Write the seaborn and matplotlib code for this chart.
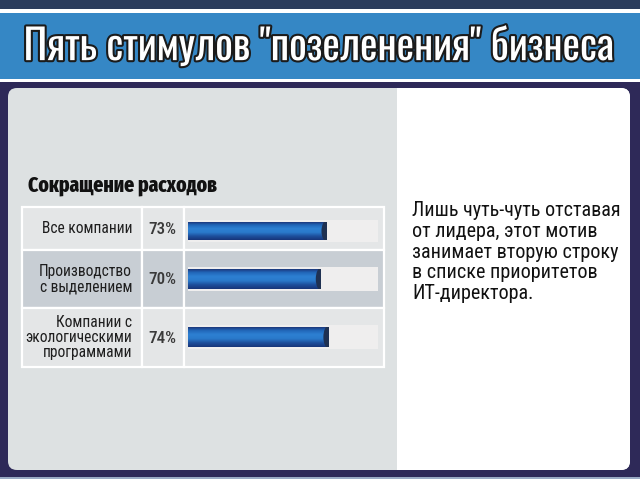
import numpy as np
import pandas as pd
import matplotlib
matplotlib.use('Agg')
import matplotlib.pyplot as plt
import matplotlib.patheffects as pe
from matplotlib.patches import Rectangle, FancyBboxPatch, Ellipse
import seaborn as sns

# chart data
title = 'Пять стимулов "позеленения" бизнеса'
subtitle = 'Сокращение расходов'
categories = ['Все компании', 'Производство\nс выделением', 'Компании с\nэкологическими\nпрограммами']
values = [73, 70, 74]
note = ('Лишь чуть-чуть отставая\nот лидера, этот мотив\nзанимает вторую строку\n'
        'в списке приоритетов\nИТ-директора.')

sns.set_theme(style='white')
plt.rcParams['font.family'] = ['Roboto Condensed', 'DejaVu Sans']
TITLE_FONT = ['Oswald', 'DejaVu Sans']
SUB_FONT = ['Fira Sans Extra Condensed', 'DejaVu Sans']

W, H = 640, 479
fig = plt.figure(figsize=(6.4, 4.79), dpi=100)
fig.patch.set_facecolor('white')
bg = fig.add_axes([0, 0, 1, 1])
bg.set_xlim(0, W)
bg.set_ylim(H, 0)
bg.axis('off')
renderer = fig.canvas.get_renderer()


def rect(x0, y0, x1, y1, color, **kw):
    bg.add_patch(Rectangle((x0, y0), x1 - x0, y1 - y0, facecolor=color, **kw))


def fit(texts, ref, target):
    # scale a group of texts so that the reference text is target px wide
    w = ref.get_window_extent(renderer).width
    size = ref.get_fontsize() * target / w
    for t in texts:
        t.set_fontsize(size)


# header bands
rect(0, 0, W, 9, '#2b3c5c', edgecolor='none')
rect(0, 13, W, 79, '#3587c5', edgecolor='none')
rect(0, 82, W, H, '#2e2958', edgecolor='none')
rect(0, 477, W, H, '#9aaac4', edgecolor='none')

# inner panel: gray left, white right
bg.add_patch(FancyBboxPatch((8, 88), 622, 382, boxstyle='round,pad=0,rounding_size=9',
                            facecolor='#dde1e2', edgecolor='none'))
bg.add_patch(FancyBboxPatch((380, 88), 250, 382, boxstyle='round,pad=0,rounding_size=9',
                            facecolor='white', edgecolor='none'))
rect(380, 88, 397, 470, '#dde1e2', edgecolor='none')

t_title = bg.text(319, 47, title, ha='center', va='center', color='white', fontsize=30,
                  family=TITLE_FONT,
                  path_effects=[pe.withStroke(linewidth=3.0, foreground='#1b1b1b')])
fit([t_title], t_title, 590)

t_sub = bg.text(28, 192, subtitle, ha='left', va='baseline', color='#111111', fontsize=14,
                fontweight='heavy', family=SUB_FONT)
fit([t_sub], t_sub, 190)

# table layout
row_edges = [207, 250, 308, 367]
col_edges = [22, 142, 184, 384]
row_colors = ['#e4e6e7', '#c8ced4', '#e4e6e7']
tracks = [(220, 242), (267, 291), (325, 349)]
bar_x0, bar_x1 = 188, 378

labels, pcts = [], []
for i, cat in enumerate(categories):
    y0, y1 = row_edges[i], row_edges[i + 1]
    for j in range(3):
        rect(col_edges[j], y0, col_edges[j + 1], y1, row_colors[i],
             edgecolor='white', linewidth=1.6)
    yc = (y0 + y1) / 2
    labels.append(bg.text(132, yc, cat, ha='right', va='center', ma='right', color='#1e1e1e',
                          fontsize=12, linespacing=1.0))
    pcts.append(bg.text(162, yc + 1, f'{values[i]}%', ha='center', va='center',
                        color='#3a3a3a', fontsize=12, fontweight='medium'))
fit(labels, labels[2], 107)
fit(pcts, pcts[0], 28)

# gradient for the blue bars
grad_colors = ['#1b2a6a', '#2166b8', '#2d80d2', '#2a7acb', '#1d4f9c', '#17357a']
cmap = matplotlib.colors.LinearSegmentedColormap.from_list('bar', grad_colors)
grad = np.linspace(0, 1, 64).reshape(-1, 1)

for i, cat in enumerate(categories):
    t0, t1 = tracks[i]
    ax = fig.add_axes([bar_x0 / W, 1 - t1 / H, (bar_x1 - bar_x0) / W, (t1 - t0) / H])
    df = pd.DataFrame({'cat': [cat], 'full': [100], 'value': [values[i]]})
    sns.barplot(data=df, x='full', y='cat', color='#efeeee', width=1.0, ax=ax,
                saturation=1, edgecolor='none')
    sns.barplot(data=df, x='value', y='cat', color='#2872c4', width=0.86, ax=ax,
                saturation=1, edgecolor='none')
    bar = ax.patches[-1]
    bx, by = bar.get_x(), bar.get_y()
    bw, bh = bar.get_width(), bar.get_height()
    im = ax.imshow(grad, cmap=cmap, aspect='auto', extent=(bx, bx + bw, by + bh, by),
                   zorder=3)
    im.set_clip_path(bar)
    cap = Ellipse((bx + bw, by + bh / 2), 5.5, bh * 1.1, facecolor='#1f3152',
                  edgecolor='none', zorder=4)
    ax.add_patch(cap)
    cap.set_clip_path(bar)
    ax.set_xlim(0, 100)
    ax.set_ylim(0.5, -0.5)
    ax.axis('off')

t_note = bg.text(412, 201, note, ha='left', va='top', color='#111111', fontsize=14,
                 linespacing=1.12)
fit([t_note], t_note, 209)

fig.savefig('out.png', dpi=100)
